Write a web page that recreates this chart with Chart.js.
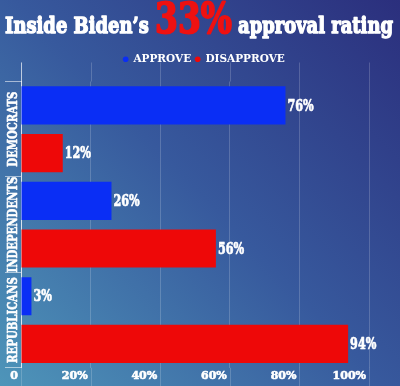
<!DOCTYPE html>
<html>
<head>
<meta charset="utf-8">
<script src="https://cdn.jsdelivr.net/npm/chart.js@4.4.1/dist/chart.umd.min.js"></script>
<style>
    html, body { margin: 0; padding: 0; background: #34529a; }
    canvas { display: block; }
</style>
</head>
<body>
<canvas id="chart" width="400" height="386"></canvas>
<script>
// data
const groups = ["DEMOCRATS", "INDEPENDENTS", "REPUBLICANS"];
const seriesNames = ["APPROVE", "DISAPPROVE"];
const approve = [76, 26, 3];
const disapprove = [12, 56, 94];
const xTicks = [0, 20, 40, 60, 80, 100];
const xTickLabels = ["0", "20%", "40%", "60%", "80%", "100%"];
const titleParts = ["Inside Biden\u2019s ", "33%", " approval rating"];

const FONT = "'DejaVu Serif', serif";
const BLUE = "#0a2ef5";
const RED = "#ee0808";
const GRID = "rgba(255, 255, 255, 0.18)";

// gradient background
const background = {
    id: "background",
    beforeDraw(chart) {
        const { ctx, width, height } = chart;
        const g = ctx.createLinearGradient(width, 0, 0, height);
        g.addColorStop(0, "#2b2f7d");
        g.addColorStop(0.5, "#37599d");
        g.addColorStop(1, "#4e95b9");
        ctx.save();
        ctx.fillStyle = g;
        ctx.fillRect(0, 0, width, height);
        ctx.restore();
    },
};

// legend sits a little right of the plot centre in the original
const nudgeLegend = {
    id: "nudgeLegend",
    afterLayout(chart) {
        chart.legend.left += 17;
        chart.legend.right += 17;
    },
};

// gridlines carry on above and below the plot
const gridTails = {
    id: "gridTails",
    beforeDatasetsDraw(chart) {
        const { ctx, chartArea, height } = chart;
        const x = chart.scales.x;
        ctx.save();
        ctx.strokeStyle = GRID;
        ctx.lineWidth = 1;
        xTicks.forEach((v) => {
            const px = Math.round(x.getPixelForValue(v)) + 0.5;
            ctx.beginPath();
            ctx.moveTo(px, chartArea.top - 19);
            ctx.lineTo(px, chartArea.top);
            ctx.moveTo(px, chartArea.bottom);
            ctx.lineTo(px, height);
            ctx.stroke();
        });
        ctx.strokeStyle = "rgba(255, 255, 255, 0.6)";
        const px0 = Math.round(x.getPixelForValue(0)) + 0.5;
        ctx.beginPath();
        ctx.moveTo(px0, chartArea.top - 19);
        ctx.lineTo(px0, chartArea.top);
        ctx.stroke();
        ctx.restore();
    },
};

function heavyText(ctx, text, x, y, width) {
    ctx.lineWidth = width;
    ctx.lineJoin = "round";
    ctx.strokeStyle = ctx.fillStyle;
    ctx.strokeText(text, x, y);
    ctx.fillText(text, x, y);
}

// mixed-colour headline, squeezed to the width of the picture
const headline = {
    id: "headline",
    afterDraw(chart) {
        const { ctx } = chart;
        const fonts = [`bold 23px ${FONT}`, `bold 42px ${FONT}`, `bold 23px ${FONT}`];
        const colors = ["#ffffff", "#ee1111", "#ffffff"];
        ctx.save();
        let total = 0;
        const widths = titleParts.map((t, i) => {
            ctx.font = fonts[i];
            const w = ctx.measureText(t).width;
            total += w;
            return w;
        });
        ctx.translate(5, 33);
        ctx.scale(388 / total, 1);
        ctx.textBaseline = "alphabetic";
        let x = 0;
        titleParts.forEach((t, i) => {
            ctx.font = fonts[i];
            ctx.fillStyle = colors[i];
            heavyText(ctx, t, x, 0, i === 1 ? 2 : 1.4);
            x += widths[i];
        });
        ctx.restore();
    },
};

// value labels at the end of each bar + rotated group names
const labels = {
    id: "labels",
    afterDatasetsDraw(chart) {
        const { ctx } = chart;
        ctx.save();
        ctx.fillStyle = "#ffffff";
        ctx.font = `bold 16px ${FONT}`;
        ctx.textAlign = "left";
        ctx.textBaseline = "middle";
        chart.data.datasets.forEach((ds, di) => {
            chart.getDatasetMeta(di).data.forEach((bar, i) => {
                ctx.save();
                ctx.translate(bar.x + 2, bar.y + 1);
                ctx.scale(0.7, 1);
                heavyText(ctx, `${ds.data[i]}%`, 0, 0, 0.7);
                ctx.restore();
            });
        });

        const yScale = chart.scales.y;
        ctx.font = `bold 13px ${FONT}`;
        ctx.textAlign = "center";
        groups.forEach((g, i) => {
            ctx.save();
            ctx.translate(12.5, yScale.getPixelForValue(i));
            ctx.rotate(-Math.PI / 2);
            ctx.scale(0.78, 1);
            heavyText(ctx, g, 0, 1, 0.6);
            ctx.restore();
        });
        ctx.restore();
    },
};

new Chart(document.getElementById("chart"), {
    type: "bar",
    data: {
        labels: groups,
        datasets: [
            { label: seriesNames[0], data: approve, backgroundColor: BLUE },
            { label: seriesNames[1], data: disapprove, backgroundColor: RED },
        ],
    },
    options: {
        indexAxis: "y",
        responsive: false,
        animation: false,
        categoryPercentage: 1,
        barPercentage: 0.8,
        layout: {
            padding: { top: 50, left: 5, right: 31, bottom: 1 },
        },
        scales: {
            x: {
                type: "linear",
                min: 0,
                max: 100,
                afterBuildTicks: (axis) => {
                    axis.ticks = xTicks.map((v) => ({ value: v }));
                },
                ticks: {
                    callback: (v, i) => xTickLabels[i],
                    color: "#ffffff",
                    textStrokeColor: "#ffffff",
                    textStrokeWidth: 0.6,
                    font: { family: FONT, weight: "bold", size: 11 },
                    align: "end",
                    labelOffset: -3,
                    padding: 2,
                },
                grid: {
                    color: GRID,
                    drawTicks: false,
                },
                border: { display: false },
            },
            x2: {
                // spacer between legend and plot
                type: "linear",
                position: "top",
                min: 0,
                max: 100,
                ticks: { display: false },
                grid: {
                    color: "rgba(0, 0, 0, 0)",
                    drawOnChartArea: false,
                    drawTicks: true,
                    tickLength: 7,
                },
                border: { display: false },
            },
            y: {
                type: "category",
                ticks: { display: false },
                grid: {
                    offset: true,
                    color: "rgba(255, 255, 255, 0.55)",
                    drawOnChartArea: false,
                    drawTicks: true,
                    tickLength: 16,
                },
                border: { display: true, color: "rgba(255, 255, 255, 0.75)" },
            },
        },
        plugins: {
            legend: {
                display: true,
                position: "top",
                labels: {
                    color: "#ffffff",
                    font: { family: FONT, weight: "bold", size: 10.5 },
                    usePointStyle: true,
                    pointStyle: "circle",
                    boxWidth: 5,
                    boxHeight: 4,
                    padding: 4,
                },
            },
            tooltip: { enabled: false },
        },
    },
    plugins: [background, nudgeLegend, gridTails, headline, labels],
});
</script>
</body>
</html>
